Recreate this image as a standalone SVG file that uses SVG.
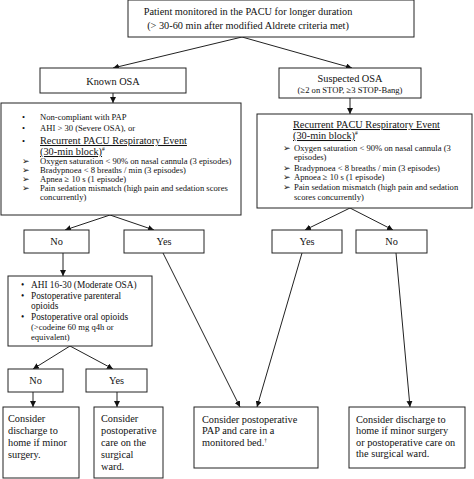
<svg xmlns="http://www.w3.org/2000/svg" width="474" height="479" viewBox="0 0 474 479">
<defs>
<style>
.box{fill:#fff;stroke:#222;stroke-width:1}
.t{font-family:"Liberation Serif","Times New Roman",serif;fill:#111}
.L{font-size:10.3px}
.S{font-size:8.6px}
.M{font-size:9.3px}
.c{text-anchor:middle}
.u{text-decoration:underline}
.ln{stroke:#222;stroke-width:1;fill:none}
</style>
<marker id="ah" viewBox="0 0 8 8" refX="8" refY="4" markerWidth="6" markerHeight="6" markerUnits="userSpaceOnUse" orient="auto">
<path d="M0,0 L8,4 L0,8 z" fill="#111"/>
</marker>
</defs>
<rect width="474" height="479" fill="#fff"/>

<g id="connectors">
<path class="ln" d="M242,37 L113,68" marker-end="url(#ah)"/>
<path class="ln" d="M242,37 L352,68" marker-end="url(#ah)"/>
<path class="ln" d="M113,93 L113,103" marker-end="url(#ah)"/>
<path class="ln" d="M350,98 L350,114" marker-end="url(#ah)"/>
<path class="ln" d="M110,215 L65,230" marker-end="url(#ah)"/>
<path class="ln" d="M110,215 L154,230" marker-end="url(#ah)"/>
<path class="ln" d="M350,208 L305,230" marker-end="url(#ah)"/>
<path class="ln" d="M350,208 L393,230" marker-end="url(#ah)"/>
<path class="ln" d="M63,253 L63,276" marker-end="url(#ah)"/>
<path class="ln" d="M163,253 L240,407" marker-end="url(#ah)"/>
<path class="ln" d="M302,253 L257,407" marker-end="url(#ah)"/>
<path class="ln" d="M396,253 L410,407" marker-end="url(#ah)"/>
<path class="ln" d="M70,346 L33,369" marker-end="url(#ah)"/>
<path class="ln" d="M70,346 L113,369" marker-end="url(#ah)"/>
<path class="ln" d="M33,392 L33,407" marker-end="url(#ah)"/>
<path class="ln" d="M117,392 L117,407" marker-end="url(#ah)"/>
</g>

<g id="top">
<rect class="box" x="128" y="0" width="286" height="37"/>
<text class="t L c" x="248" y="15">Patient monitored in the PACU for longer duration</text>
<text class="t L c" x="248" y="29">(&gt; 30-60 min after modified Aldrete criteria met)</text>
</g>

<g id="known">
<rect class="box" x="40" y="68" width="146" height="25"/>
<text class="t L c" x="113" y="84.5">Known OSA</text>
</g>

<g id="suspected">
<rect class="box" x="279" y="68" width="142" height="30"/>
<text class="t L c" x="350" y="82">Suspected OSA</text>
<text class="t S c" x="350" y="93">(≥2 on STOP, ≥3 STOP-Bang)</text>
</g>

<g id="known-criteria">
<rect class="box" x="1" y="103" width="240" height="112"/>
<g class="t S">
<text x="22" y="120">•</text><text x="40" y="120">Non-compliant with PAP</text>
<text x="22" y="131">•</text><text x="40" y="131">AHI &gt; 30 (Severe OSA), or</text>
<text x="22" y="144">•</text>
<text x="22" y="164">➢</text><text x="40" y="164">Oxygen saturation &lt; 90% on nasal cannula (3 episodes)</text>
<text x="22" y="173">➢</text><text x="40" y="173">Bradypnoea &lt; 8 breaths / min (3 episodes)</text>
<text x="22" y="182">➢</text><text x="40" y="182">Apnea ≥ 10 s (1 episode)</text>
<text x="22" y="191">➢</text><text x="40" y="191">Pain sedation mismatch (high pain and sedation scores</text>
<text x="40" y="200">concurrently)</text>
</g>
<text class="t L u" x="40" y="144">Recurrent PACU Respiratory Event</text>
<text class="t L" x="40" y="155"><tspan class="u">(30-min block)</tspan><tspan font-size="5.5" dy="-4">#</tspan></text>
</g>

<g id="suspected-criteria">
<rect class="box" x="257" y="114" width="215" height="94"/>
<text class="t L u" x="293" y="128">Recurrent PACU Respiratory Event</text>
<text class="t L" x="293" y="139"><tspan class="u">(30-min block)</tspan><tspan font-size="5.5" dy="-4">#</tspan></text>
<g class="t S">
<text x="283" y="151">➢</text><text x="294" y="151">Oxygen saturation &lt; 90% on nasal cannula (3</text>
<text x="294" y="160">episodes)</text>
<text x="283" y="171">➢</text><text x="294" y="171">Bradypnoea &lt; 8 breaths / min (3 episodes)</text>
<text x="283" y="180">➢</text><text x="294" y="180">Apnoea ≥ 10 s (1 episode)</text>
<text x="283" y="190">➢</text><text x="294" y="190">Pain sedation mismatch (high pain and sedation</text>
<text x="294" y="200">scores concurrently)</text>
</g>
</g>

<g id="no1">
<rect class="box" x="24" y="230" width="65" height="23"/>
<text class="t L c" x="56.5" y="245">No</text>
</g>
<g id="yes1">
<rect class="box" x="124" y="230" width="80" height="23"/>
<text class="t L c" x="164" y="245">Yes</text>
</g>
<g id="yes2">
<rect class="box" x="272" y="230" width="70" height="23"/>
<text class="t L c" x="307" y="245">Yes</text>
</g>
<g id="no2">
<rect class="box" x="356" y="230" width="71" height="23"/>
<text class="t L c" x="391.5" y="245">No</text>
</g>

<g id="moderate">
<rect class="box" x="8" y="276" width="144" height="70"/>
<g class="t M">
<text x="21" y="288">•</text><text x="31" y="288">AHI 16-30 (Moderate OSA)</text>
<text x="21" y="298.5">•</text><text x="31" y="298.5">Postoperative parenteral</text>
<text x="31" y="309">opioids</text>
<text x="21" y="319.5">•</text><text x="31" y="319.5">Postoperative oral opioids</text>
<text x="31" y="330" font-size="8.6">(&gt;codeine 60 mg q4h or</text>
<text x="31" y="340" font-size="8.6">equivalent)</text>
</g>
</g>

<g id="no3">
<rect class="box" x="8" y="369" width="55" height="23"/>
<text class="t L c" x="35.5" y="384">No</text>
</g>
<g id="yes3">
<rect class="box" x="86" y="369" width="61" height="23"/>
<text class="t L c" x="116.5" y="384">Yes</text>
</g>

<g id="discharge-left">
<rect class="box" x="3" y="407" width="76" height="71"/>
<g class="t L">
<text x="8" y="422">Consider</text>
<text x="8" y="434">discharge to</text>
<text x="8" y="446">home if minor</text>
<text x="8" y="457.5">surgery.</text>
</g>
</g>

<g id="ward">
<rect class="box" x="94" y="407" width="69" height="71"/>
<g class="t L">
<text x="101" y="422">Consider</text>
<text x="101" y="434">postoperative</text>
<text x="101" y="446">care on the</text>
<text x="101" y="457.5">surgical</text>
<text x="101" y="469.5">ward.</text>
</g>
</g>

<g id="monitored">
<rect class="box" x="194" y="407" width="124" height="61"/>
<g class="t L">
<text x="202" y="422.5">Consider postoperative</text>
<text x="202" y="434">PAP and care in a</text>
<text x="202" y="445.5">monitored bed.<tspan font-size="5.5" dy="-4">†</tspan></text>
</g>
</g>

<g id="discharge-right">
<rect class="box" x="349" y="407" width="116" height="61"/>
<g class="t L">
<text x="356" y="422.5">Consider discharge to</text>
<text x="356" y="434">home if minor surgery</text>
<text x="356" y="445.5">or postoperative care on</text>
<text x="356" y="457">the surgical ward.</text>
</g>
</g>
</svg>
